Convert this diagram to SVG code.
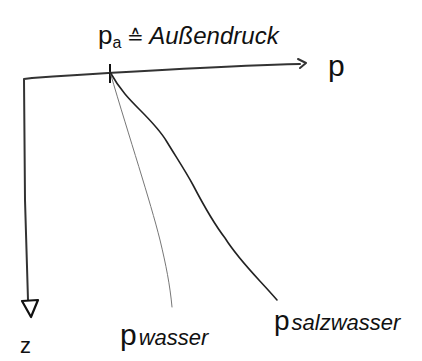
<svg xmlns="http://www.w3.org/2000/svg" width="422" height="361" viewBox="0 0 422 361">
<style>
.t{font-family:"Liberation Sans","DejaVu Sans",sans-serif;fill:#111;}
.ax{fill:none;stroke:#333;stroke-width:2;stroke-linecap:round;stroke-linejoin:round;}
.dark{fill:none;stroke:#222;stroke-width:1.6;stroke-linecap:round;}
.thin{fill:none;stroke:#777;stroke-width:1;stroke-linecap:round;}
</style>
<rect width="422" height="361" fill="#fff"/>
<g id="axes">
  <path class="ax" d="M32,78 L24,79 L25,200 L28,300"/>
  <path class="ax" d="M32,78 C120,72 220,66 300,64"/>
  <path class="ax" d="M298,59 L306,63 L300,68"/>
  <path fill="none" stroke="#111" stroke-width="2.2" stroke-linejoin="round" d="M22,301 L38,300 L31,317 Z"/>
  <path fill="none" stroke="#111" stroke-width="2" d="M110,64 L110,83"/>
</g>
<g id="connectors">
  <path class="thin" d="M110,72 C130,140 150,200 160,240 C166,265 170,285 172,307"/>
  <path class="dark" d="M110,72 C120,90 130,100 140,110 C150,120 160,130 167,142 C178,160 186,172 193,185 C205,208 215,225 225,238 C240,262 260,280 277,300"/>
</g>
<g id="label-pa">
  <text class="t" x="98" y="44" font-size="26">p<tspan font-size="16" dy="4">a</tspan><tspan dy="-4" font-size="20"> ≙ </tspan><tspan font-size="24" font-style="italic">Außendruck</tspan></text>
</g>
<g id="label-p">
  <text class="t" x="328" y="76" font-size="30">p</text>
</g>
<g id="label-z">
  <text class="t" x="20" y="353" font-size="22">z</text>
</g>
<g id="label-pwasser">
  <text class="t" x="120" y="345" font-size="30">p<tspan font-size="22" dx="2" font-style="italic">wasser</tspan></text>
</g>
<g id="label-psalzwasser">
  <text class="t" x="274" y="330" font-size="28">p<tspan font-size="22" dx="2" font-style="italic">salzwasser</tspan></text>
</g>
</svg>
